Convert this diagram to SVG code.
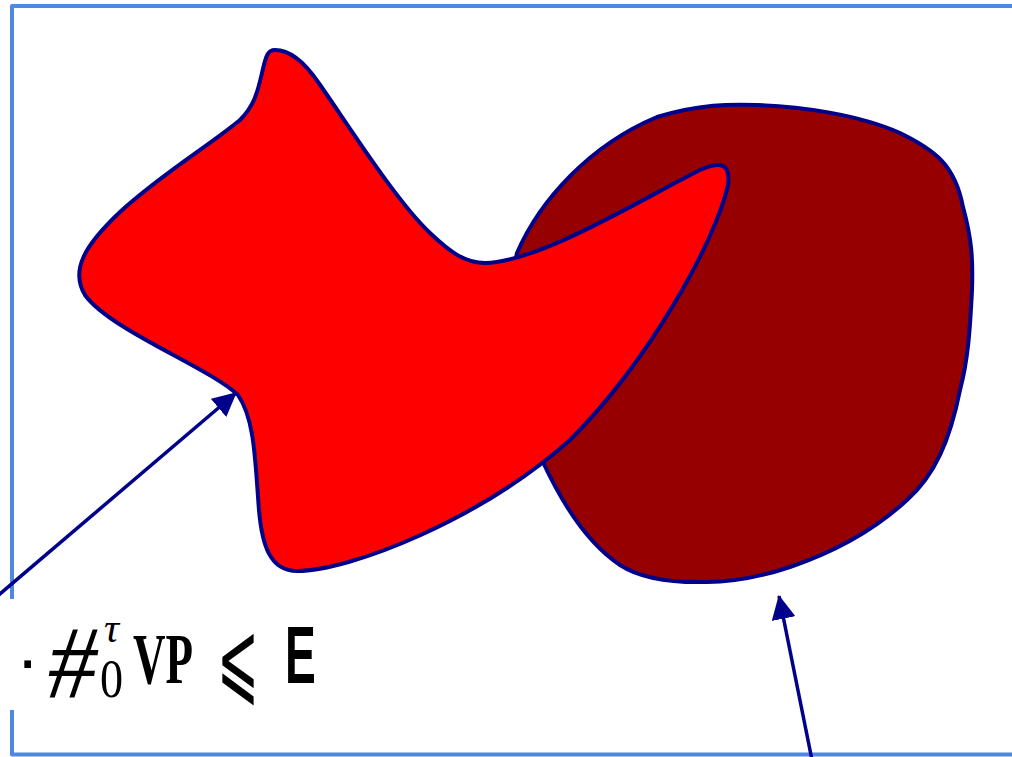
<svg xmlns="http://www.w3.org/2000/svg" width="1012" height="757" viewBox="0 0 1012 757">
  <style>
    .frame { fill: none; stroke: #4f87e6; stroke-width: 4; stroke-linejoin: round; }
    .blob { stroke: #00008b; stroke-width: 4; stroke-linejoin: round; }
    .conn { fill: none; stroke: #00008b; stroke-width: 3.5; }
    .serif { font-family: "Liberation Serif", "DejaVu Serif", serif; fill: #000; }
    .sans { font-family: "Liberation Sans", "DejaVu Sans", sans-serif; fill: #000; }
    .math { font-family: "DejaVu Sans", "Noto Sans", sans-serif; fill: #000; }
  </style>
  <defs>
    <marker id="arrow" markerUnits="userSpaceOnUse" viewBox="0 0 24 24" refX="23" refY="12" markerWidth="24" markerHeight="24" orient="auto">
      <path d="M0,0 L24,12 L0,24 z" fill="#00008b"/>
    </marker>
  </defs>

  <rect width="1012" height="757" fill="#ffffff"/>

  <g id="frame">
    <path class="frame" d="M 1014 6 H 12 V 599"/>
    <path class="frame" d="M 12 710 V 754.5 H 1014"/>
  </g>

  <g id="shape-dark">
    <path class="blob" fill="#960000" d="M 517 253 C 540 200 590 145 657 117 C 700 104 730 104 757 105 C 800 106 860 115 900 133 C 935 150 955 165 963 207 C 972 240 973 260 972 290 C 970 330 968 360 960 390 C 950 440 935 475 907 500 C 880 525 840 550 790 567 C 760 577 730 582 707 582 C 670 583 640 578 620 565 C 590 545 565 510 542 460 C 520 410 505 300 517 253 Z"/>
  </g>

  <g id="shape-red">
    <path class="blob" fill="#ff0000" d="M 275 50 C 290 50 305 63 318 82 C 345 120 395 200 430 233 C 450 252 465 263 485 263 C 540 262 640 200 700 170 C 720 161 731 163 728 185 C 716 240 650 360 570 440 C 480 520 350 571 297 571 C 270 571 262 545 259 510 C 255 460 255 420 238 395 C 210 368 110 330 85 295 C 70 270 85 245 120 212 C 160 175 210 145 240 120 C 255 105 258 90 262 73 C 266 55 268 50 275 50 Z"/>
  </g>

  <g id="connectors">
    <line class="conn" x1="-6" y1="599" x2="236" y2="393" marker-end="url(#arrow)"/>
    <line class="conn" x1="812" y1="760" x2="779" y2="596" marker-end="url(#arrow)"/>
  </g>

  <g id="label">
    <text class="sans" x="16" y="683" font-size="70">·</text>
    <text class="serif" transform="translate(48,697) scale(0.94,1)" font-size="104" font-style="italic">#</text>
    <text class="serif" x="104" y="642" font-size="42" font-style="italic">τ</text>
    <text class="serif" transform="translate(100,697) scale(0.84,1)" font-size="55">0</text>
    <text class="serif" transform="translate(133,683) scale(0.625,1)" font-size="72" font-weight="bold">VP</text>
    <text class="math" transform="translate(217,693) scale(0.49,1)" font-size="102">⩽</text>
    <text class="sans" transform="translate(285,683) scale(0.57,1)" font-size="81" font-weight="bold">E</text>
  </g>
</svg>
